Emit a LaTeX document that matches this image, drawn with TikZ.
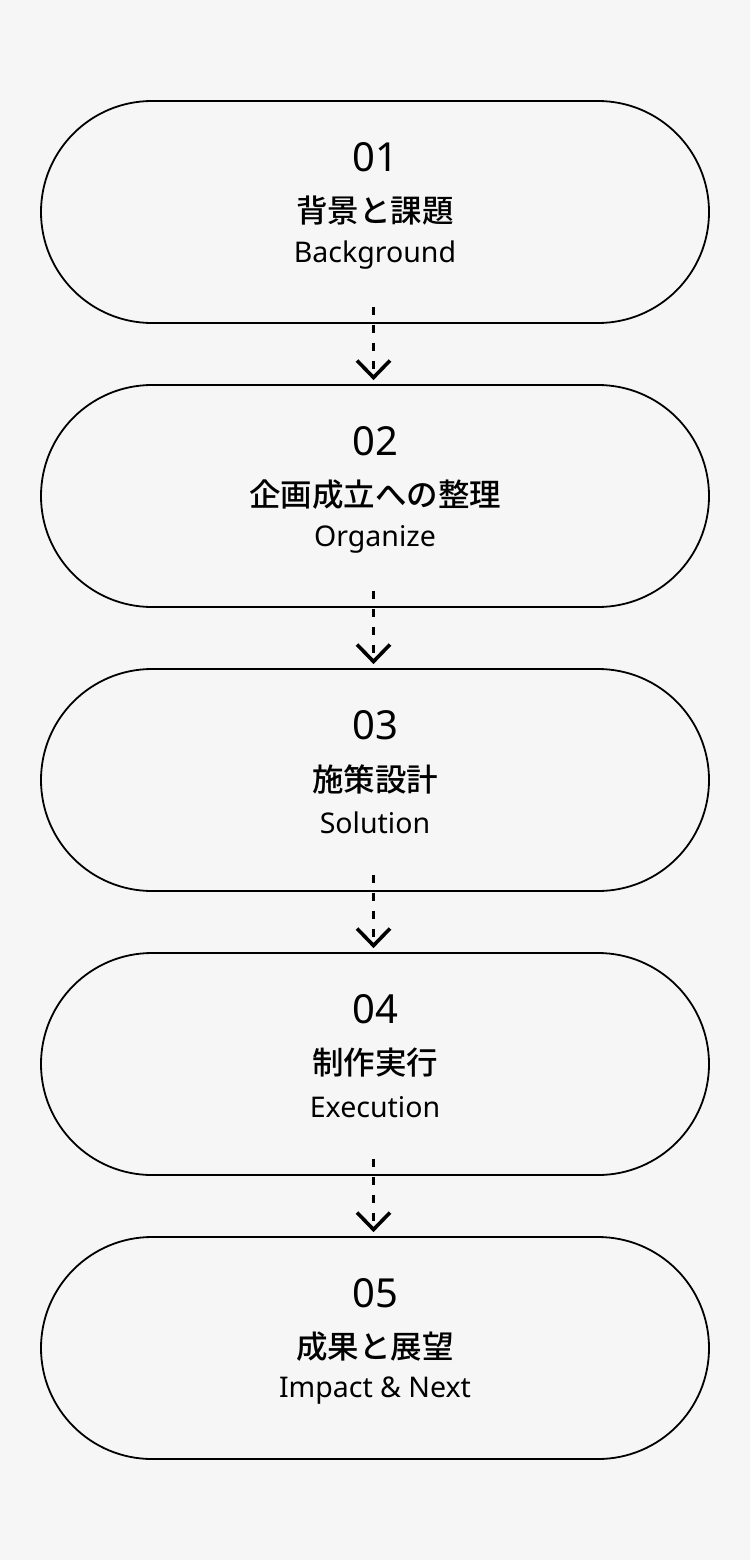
\documentclass[tikz,border=0pt]{standalone}
\usepackage{fontspec}
\setmainfont{Noto Sans}
\newfontfamily\jpfont{Noto Sans CJK JP}[UprightFont=* Medium]
\usetikzlibrary{arrows.meta}
\definecolor{bg}{HTML}{F5F6F5}
\tikzset{
  stage/.style={draw=black, line width=1.8pt, rounded corners=111pt, minimum width=668pt, minimum height=222pt, inner sep=0pt},
  numtxt/.style={font=\fontsize{40}{40}\selectfont, anchor=center},
  jptxt/.style={font=\jpfont\fontsize{31.5}{31.5}\selectfont, anchor=center},
  entxt/.style={font=\fontsize{28.5}{28.5}\selectfont, anchor=center},
  flow/.style={line width=3.6pt, dash pattern=on 8pt off 10pt, dash phase=-1pt, -{Straight Barb[length=17pt, width=33pt, line width=3.6pt]}}
}
\begin{document}
\begin{tikzpicture}[x=1pt,y=1pt]
\fill[bg] (0,0) rectangle (750,-1560);
\useasboundingbox (0,0) rectangle (750,-1560);
\foreach \i/\num/\jp/\en in {1/01/背景と課題/Background,2/02/企画成立への整理/Organize,3/03/施策設計/Solution,4/04/制作実行/Execution,5/05/成果と展望/Impact \& Next}{
  \pgfmathsetmacro{\cy}{-212-284*(\i-1)}
  \node[stage] (b\i) at (375,\cy) {};
  \node[numtxt] (n\i) at (375,\cy+55) {\num};
  \node[jptxt] (j\i) at (375,\cy+1) {\jp};
  \node[entxt] (e\i) at (375,\cy-43) {\en};
}
\foreach \i [evaluate=\i as \k using int(\i+1)] in {1,2,3,4}{
  \draw[flow] ([xshift=-1.5pt,yshift=18pt]b\i.south) -- ([xshift=-1.5pt,yshift=4pt]b\k.north);
}
\end{tikzpicture}
\end{document}
